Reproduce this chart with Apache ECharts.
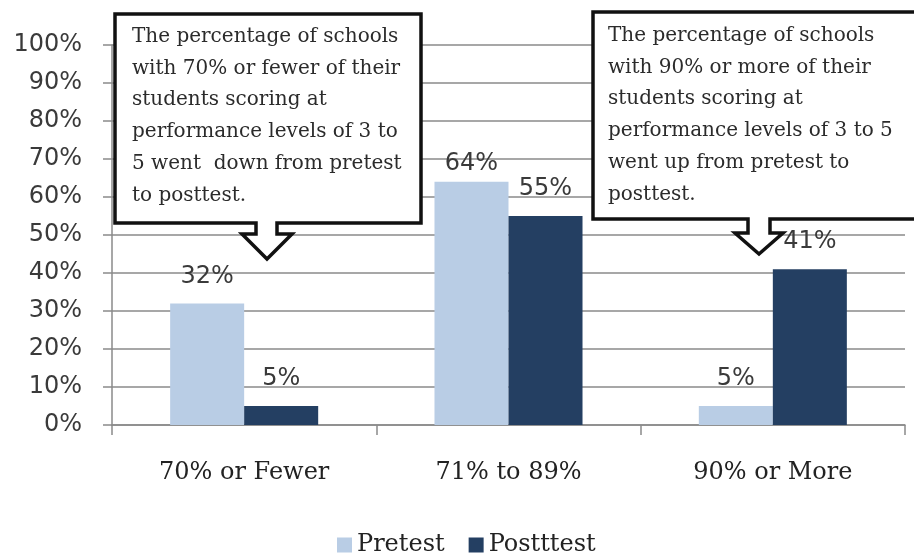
<!DOCTYPE html>
<html>
<head>
<meta charset="utf-8">
<script src="https://cdn.jsdelivr.net/npm/echarts@6/dist/echarts.min.js"></script>
<style>
  html, body { margin: 0; padding: 0; background: #fff; }
  #chart { width: 914px; height: 556px; }
</style>
</head>
<body>
<div id="chart"></div>
<script>
// Share of schools by percent of students scoring at levels 3-5
const categories = ['70% or Fewer', '71% to 89%', '90% or More'];
const seriesNames = ['Pretest', 'Postttest'];
const pretest = [32, 64, 5];
const posttest = [5, 55, 41];
const yTicks = { min: 0, max: 100, step: 10 };

const noteLeft = [
  'The percentage of schools',
  'with 70% or fewer of their',
  'students scoring at',
  'performance levels of 3 to',
  '5 went  down from pretest',
  'to posttest.'
];
const noteRight = [
  'The percentage of schools',
  'with 90% or more of their',
  'students scoring at',
  'performance levels of 3 to 5',
  'went up from pretest to',
  'posttest.'
];

const sansFont = '"DejaVu Sans", Verdana, sans-serif';
const serifFont = '"DejaVu Serif", "Liberation Serif", serif';

// Callout outline: rectangle with a hollow down-arrow hanging from its bottom edge
function calloutPoints(box, arrow) {
  const { l, r, t, b } = box;
  const { sl, sr, fy, fl, fr, tx, ty } = arrow;
  return [
    [l, t], [r, t], [r, b], [sr, b], [sr, fy], [fr, fy],
    [tx, ty], [fl, fy], [sl, fy], [sl, b], [l, b]
  ];
}

function callout(box, arrow, lines, textX, textY) {
  return [
    {
      type: 'polygon',
      z: 100,
      shape: { points: calloutPoints(box, arrow) },
      style: { fill: '#fff', stroke: '#111', lineWidth: 3.5, lineJoin: 'miter' }
    },
    {
      type: 'text',
      z: 101,
      x: textX,
      y: textY,
      style: {
        text: lines.join('\n'),
        font: '20px ' + serifFont,
        fill: '#2b2b2b',
        lineHeight: 31.7,
        textVerticalAlign: 'top'
      }
    }
  ];
}

function labelFor(value, idx, seriesIdx) {
  // the middle pretest label sits closer to its bar to clear the callout
  const distance = (seriesIdx === 0 && idx === 1) ? 6 : 15;
  return { value: value, label: { distance: distance } };
}

const chart = echarts.init(document.getElementById('chart'));

chart.setOption({
  backgroundColor: '#fff',
  animation: false,
  grid: { left: 112, right: 9, top: 45, bottom: 131, containLabel: false },
  legend: {
    data: seriesNames,
    left: 332,
    top: 528,
    icon: 'rect',
    itemWidth: 15,
    itemHeight: 15,
    itemGap: 24,
    textStyle: { fontFamily: serifFont, fontSize: 24, color: '#222' }
  },
  xAxis: {
    type: 'category',
    data: categories,
    axisLine: { lineStyle: { color: '#8a8a8a', width: 1.5 } },
    axisTick: { show: true, length: 10, lineStyle: { color: '#8a8a8a', width: 1.5 } },
    axisLabel: { margin: 36, fontFamily: serifFont, fontSize: 24, color: '#222' },
    splitLine: { show: false }
  },
  yAxis: {
    type: 'value',
    min: yTicks.min,
    max: yTicks.max,
    interval: yTicks.step,
    axisLine: { show: true, lineStyle: { color: '#8a8a8a', width: 1.5 } },
    axisTick: { show: true, length: 9, lineStyle: { color: '#8a8a8a', width: 1.5 } },
    axisLabel: { margin: 30, formatter: '{value}%', fontFamily: sansFont, fontSize: 24, color: '#3a3a3a' },
    splitLine: { lineStyle: { color: '#8a8a8a', width: 1.5 } }
  },
  series: [
    {
      name: seriesNames[0],
      type: 'bar',
      data: pretest.map((v, i) => labelFor(v, i, 0)),
      barGap: '0%',
      barCategoryGap: '44%',
      itemStyle: { color: '#B9CDE5' },
      label: { show: true, position: 'top', formatter: '{c}%', fontFamily: sansFont, fontSize: 24, color: '#3a3a3a' }
    },
    {
      name: seriesNames[1],
      type: 'bar',
      data: posttest.map((v, i) => labelFor(v, i, 1)),
      barGap: '0%',
      barCategoryGap: '44%',
      itemStyle: { color: '#243F62' },
      label: { show: true, position: 'top', formatter: '{c}%', fontFamily: sansFont, fontSize: 24, color: '#3a3a3a' }
    }
  ],
  graphic: [
    ...callout(
      { l: 115, r: 421, t: 14, b: 223 },
      { sl: 256, sr: 277, fy: 234, fl: 242, fr: 292, tx: 267, ty: 259 },
      noteLeft, 132, 21
    ),
    ...callout(
      { l: 593, r: 920, t: 12, b: 219 },
      { sl: 748, sr: 770, fy: 233, fl: 735, fr: 783, tx: 759, ty: 254 },
      noteRight, 608, 20
    )
  ]
});
</script>
</body>
</html>
